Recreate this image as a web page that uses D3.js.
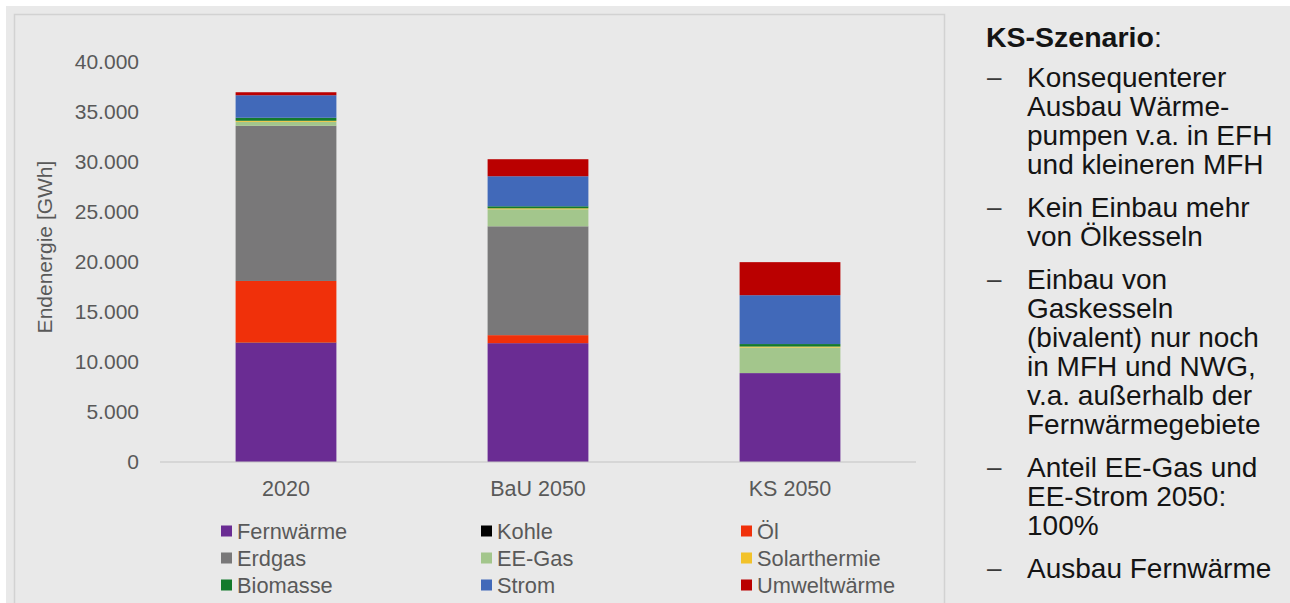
<!DOCTYPE html>
<meta charset="utf-8">
<title>Endenergie Szenarien</title>
<style>
body { margin: 0; background: #fff; }
svg { display: block; font-family: "Liberation Sans", Arial, sans-serif; }
</style>
<svg width="1290" height="603"></svg>
<script src="https://d3js.org/d3.v7.min.js"></script>
<script>
// categories and series (stack order bottom -> top)
var categories = ["2020", "BaU 2050", "KS 2050"];
var seriesNames = ["Fernwärme", "Kohle", "Öl", "Erdgas", "EE-Gas", "Solarthermie", "Biomasse", "Strom", "Umweltwärme"];
var seriesColors = ["#6a2c93", "#000000", "#f0300a", "#797879", "#a3c68c", "#f2c22a", "#137a2c", "#4169b9", "#ba0000"];

// values in GWh
var fernwaerme   = [11900, 11870, 8880];
var kohle        = [30, 0, 0];
var oel          = [6150, 800, 0];
var erdgas       = [15500, 10870, 0];
var eeGas        = [400, 1700, 2550];
var solarthermie = [100, 100, 100];
var biomasse     = [300, 200, 250];
var strom        = [2250, 3000, 4880];
var umweltwaerme = [300, 1700, 3300];

var yTicks = [0, 5000, 10000, 15000, 20000, 25000, 30000, 35000, 40000];

var notes = [
  ["Konsequenterer", "Ausbau Wärme-", "pumpen v.a. in EFH", "und kleineren MFH"],
  ["Kein Einbau mehr", "von Ölkesseln"],
  ["Einbau von", "Gaskesseln", "(bivalent) nur noch", "in MFH und NWG,", "v.a. außerhalb der", "Fernwärmegebiete"],
  ["Anteil EE-Gas und", "EE-Strom 2050:", "100%"],
  ["Ausbau Fernwärme"]
];

var valuesBySeries = [fernwaerme, kohle, oel, erdgas, eeGas, solarthermie, biomasse, strom, umweltwaerme];
var table = categories.map(function(c, i) {
  var row = {cat: c};
  seriesNames.forEach(function(s, j) { row[s] = valuesBySeries[j][i]; });
  return row;
});

var svg = d3.select("svg");
var de = d3.formatLocale({decimal: ",", thousands: ".", grouping: [3], currency: ["", " €"]});
var fmt = de.format(",");

// page background + chart frame
svg.append("rect").attr("x", 6).attr("y", 6).attr("width", 1284).attr("height", 597).attr("fill", "#e9e9e9");
svg.append("rect").attr("x", 14.5).attr("y", 14.5).attr("width", 930).attr("height", 620)
    .attr("fill", "#e9e9e9").attr("stroke", "#d2d2d2").attr("stroke-width", 1.5);

var x = d3.scaleBand().domain(categories).range([160, 916]).paddingInner(0.6).paddingOuter(0.3);
var y = d3.scaleLinear().domain([0, 40000]).range([462, 61.5]);

var stack = d3.stack().keys(seriesNames);
var layers = stack(table);

svg.append("g").selectAll("g")
  .data(layers)
  .enter().append("g")
    .attr("fill", function(d, i) { return seriesColors[i]; })
  .selectAll("rect")
  .data(function(d) { return d; })
  .enter().append("rect")
    .attr("x", function(d) { return x(d.data.cat); })
    .attr("width", x.bandwidth())
    .attr("y", function(d) { return y(d[1]); })
    .attr("height", function(d) { return Math.max(0, y(d[0]) - y(d[1])); });

// baseline
svg.append("line")
    .attr("x1", 160).attr("x2", 916)
    .attr("y1", y(0)).attr("y2", y(0))
    .attr("stroke", "#c4c4c4").attr("stroke-width", 1.2);

// y axis labels
var yAxis = d3.axisLeft(y).tickValues(yTicks).tickFormat(fmt).tickSize(0).tickPadding(0);
var gy = svg.append("g").attr("transform", "translate(139,0)").call(yAxis);
gy.select(".domain").remove();
gy.selectAll("text").attr("font-size", 21).attr("fill", "#595959").attr("font-family", "Liberation Sans, Arial, sans-serif");

// x axis labels
var xAxis = d3.axisBottom(x).tickSize(0).tickPadding(0);
var gx = svg.append("g").attr("transform", "translate(0,481)").call(xAxis);
gx.select(".domain").remove();
gx.selectAll("text").attr("font-size", 21.5).attr("fill", "#595959").attr("font-family", "Liberation Sans, Arial, sans-serif");

// y axis title
svg.append("text")
    .attr("transform", "translate(52,247) rotate(-90)")
    .attr("text-anchor", "middle")
    .attr("font-size", 21)
    .attr("fill", "#595959")
    .text("Endenergie [GWh]");

// legend, 3 columns
var legend = svg.append("g").selectAll("g")
  .data(seriesNames)
  .enter().append("g")
    .attr("transform", function(d, i) { return "translate(" + (221 + (i % 3) * 260) + "," + (531 + Math.floor(i / 3) * 27) + ")"; });
legend.append("rect")
    .attr("y", -5.5).attr("width", 11).attr("height", 11)
    .attr("fill", function(d, i) { return seriesColors[i]; });
legend.append("text")
    .attr("x", 16).attr("dy", "0.36em")
    .attr("font-size", 21.8).attr("fill", "#595959")
    .text(function(d) { return d; });

// side notes
var side = svg.append("g").attr("fill", "#141414");
var title = side.append("text").attr("x", 986).attr("y", 47).attr("font-size", 28.5);
title.append("tspan").attr("font-weight", "bold").text("KS-Szenario");
title.append("tspan").text(":");

var lineH = 29, gap = 14, cy = 87;
notes.forEach(function(par) {
  side.append("text").attr("x", 987).attr("y", cy - 1).attr("font-size", 26).attr("fill", "#3a3a3a").text("–");
  par.forEach(function(line, k) {
    side.append("text").attr("x", 1027).attr("y", cy + k * lineH).attr("font-size", 28).text(line);
  });
  cy += par.length * lineH + gap;
});
</script>
